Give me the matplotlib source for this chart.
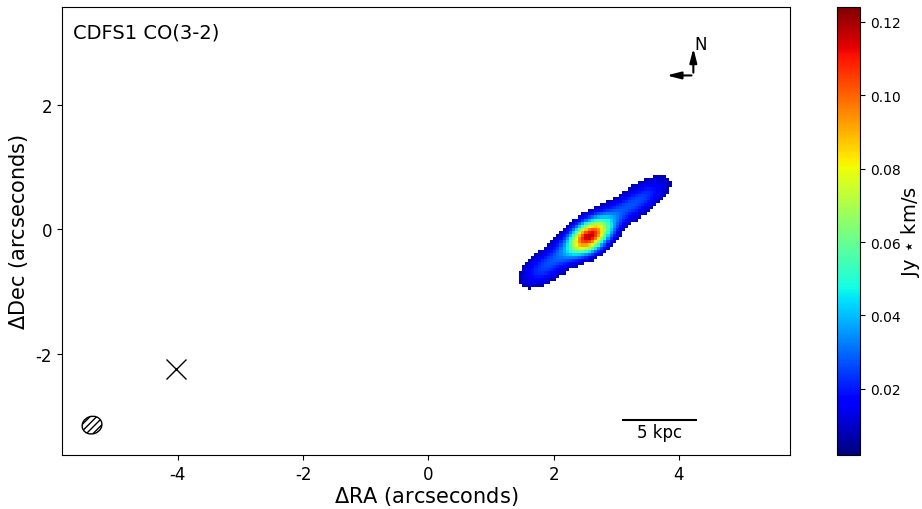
import numpy as np
import matplotlib
matplotlib.use("Agg")
import matplotlib.pyplot as plt
from matplotlib.patches import Ellipse

plt.rcParams['axes.unicode_minus'] = False

# emission components: centre (arcsec), peak (Jy km/s), widths along/across the disc
comp_x = [2.58, 2.62, 1.85, 2.22, 2.98, 3.42]
comp_y = [-0.12, -0.05, -0.62, -0.36, 0.24, 0.50]
comp_amp = [0.100, 0.016, 0.023, 0.008, 0.008, 0.023]
comp_major = [0.24, 0.45, 0.30, 0.22, 0.25, 0.35]
comp_minor = [0.15, 0.17, 0.16, 0.14, 0.14, 0.15]
pa_deg = 35.0
pix = 0.05
clip_level = 0.007

cbar_ticks = [0.02, 0.04, 0.06, 0.08, 0.10, 0.12]
vmin, vmax = 0.002, 0.124

# %% build the moment-0 map
xg = np.arange(-5.85, 5.78, pix) + pix / 2
yg = np.arange(-3.63, 3.57, pix) + pix / 2
X, Y = np.meshgrid(xg, yg)
th = np.deg2rad(pa_deg)
mom0 = np.zeros_like(X)
for x0, y0, a, su, sv in zip(comp_x, comp_y, comp_amp, comp_major, comp_minor):
    u = (X - x0) * np.cos(th) + (Y - y0) * np.sin(th)
    v = -(X - x0) * np.sin(th) + (Y - y0) * np.cos(th)
    mom0 += a * np.exp(-0.5 * ((u / su) ** 2 + (v / sv) ** 2))
mom0 = np.ma.masked_less(mom0, clip_level)

# %% plot
fig = plt.figure(figsize=(9.22, 5.10), dpi=100)
ax = fig.add_axes([0.0672, 0.1059, 0.7901, 0.8784])
cax = fig.add_axes([0.9078, 0.1059, 0.025, 0.8784])

im = ax.imshow(mom0, origin='lower', cmap='jet', vmin=vmin, vmax=vmax,
               extent=[-5.85, 5.78, -3.63, 3.57], aspect='auto',
               interpolation='nearest')
ax.set_xlim(-5.85, 5.78)
ax.set_ylim(-3.63, 3.57)
ax.set_xticks([-4, -2, 0, 2, 4])
ax.set_yticks([-2, 0, 2])
ax.tick_params(labelsize=12)
ax.set_xlabel(r'$\Delta$RA (arcseconds)', fontsize=15, labelpad=1)
ax.set_ylabel(r'$\Delta$Dec (arcseconds)', fontsize=15)

ax.text(0.015, 0.965, 'CDFS1 CO(3-2)', transform=ax.transAxes, fontsize=14,
        va='top', ha='left')

# compass
arrow_style = '-|>,head_width=0.18,head_length=0.7'
ax.annotate('', xy=(4.23, 2.95), xytext=(4.23, 2.47),
            arrowprops=dict(arrowstyle=arrow_style, color='k', lw=1.5, mutation_scale=12))
ax.annotate('', xy=(3.76, 2.47), xytext=(4.245, 2.47),
            arrowprops=dict(arrowstyle=arrow_style, color='k', lw=1.5, mutation_scale=12))
ax.text(4.25, 2.98, 'N', fontsize=12, ha='left', va='center')

# scale bar
ax.plot([3.11, 4.27], [-3.06, -3.06], color='k', lw=1.5)
ax.text(3.69, -3.12, '5 kpc', fontsize=12, ha='center', va='top')

# phase centre and beam
ax.plot(-4.03, -2.25, 'x', color='k', ms=14, mew=1)
ax.add_patch(Ellipse((-5.37, -3.15), 0.32, 0.28, angle=20, fill=False,
                     hatch='/////', lw=1, color='k'))

cb = fig.colorbar(im, cax=cax, ticks=cbar_ticks)
cb.ax.tick_params(labelsize=10)
cb.set_label(r'Jy $\star$ km/s', fontsize=14, labelpad=-1)

fig.savefig('out.png', dpi=100)
